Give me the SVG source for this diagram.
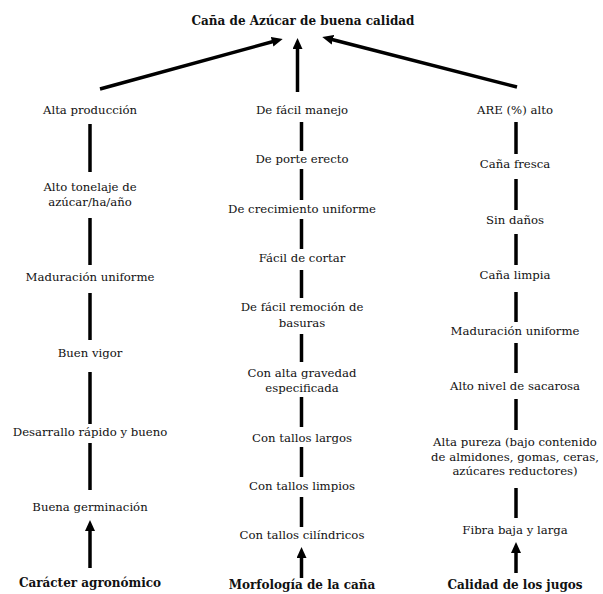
<svg xmlns="http://www.w3.org/2000/svg" width="603" height="594" viewBox="0 0 603 594">
<style>
text{font-family:"DejaVu Serif","Liberation Serif",serif;font-size:11.7px;fill:#111;text-anchor:middle}
.b{font-weight:bold;font-size:12px}
.c line{stroke:#000;stroke-width:3.5}
.a{marker-end:url(#ah)}
</style>
<defs>
<marker id="ah" markerUnits="userSpaceOnUse" markerWidth="11" markerHeight="10" refX="3" refY="5" orient="auto">
<path d="M0,0 L11,5 L0,10 z" fill="#000"/>
</marker>
</defs>
<rect width="603" height="594" fill="#fff"/>
<g id="title"><text class="b" x="303" y="25">Caña de Azúcar de buena calidad</text></g>
<g class="c" id="connectors">
<line class="a" x1="100" y1="89" x2="275" y2="41"/>
<line class="a" x1="297.5" y1="92" x2="297.5" y2="46"/>
<line class="a" x1="517" y1="87" x2="330" y2="39"/>
<line x1="90" y1="124" x2="90" y2="172"/>
<line x1="90" y1="218" x2="90" y2="265"/>
<line x1="90" y1="293" x2="90" y2="340"/>
<line x1="90" y1="372" x2="90" y2="424"/>
<line x1="90" y1="443" x2="90" y2="490"/>
<line class="a" x1="90" y1="568" x2="90" y2="528"/>
<line x1="301.5" y1="122" x2="301.5" y2="151"/>
<line x1="301.5" y1="169" x2="301.5" y2="200"/>
<line x1="301.5" y1="219" x2="301.5" y2="249"/>
<line x1="301.5" y1="270" x2="301.5" y2="298"/>
<line x1="301.5" y1="334" x2="301.5" y2="362"/>
<line x1="301.5" y1="397" x2="301.5" y2="427"/>
<line x1="301.5" y1="447" x2="301.5" y2="477"/>
<line x1="301.5" y1="497" x2="301.5" y2="527"/>
<line class="a" x1="301.5" y1="578" x2="301.5" y2="555"/>
<line x1="516" y1="122" x2="516" y2="154"/>
<line x1="516" y1="179" x2="516" y2="210"/>
<line x1="516" y1="234" x2="516" y2="265"/>
<line x1="516" y1="292" x2="516" y2="322"/>
<line x1="516" y1="343" x2="516" y2="373"/>
<line x1="516" y1="399" x2="516" y2="430"/>
<line x1="516" y1="488" x2="516" y2="518"/>
<line class="a" x1="516" y1="573" x2="516" y2="550"/>
</g>
<g id="col1">
<g id="n-alta-produccion"><text x="90" y="114">Alta producción</text></g>
<g id="n-alto-tonelaje"><text x="90" y="191">Alto tonelaje de</text><text x="90" y="206">azúcar/ha/año</text></g>
<g id="n-maduracion1"><text x="90" y="281">Maduración uniforme</text></g>
<g id="n-buen-vigor"><text x="90" y="357">Buen vigor</text></g>
<g id="n-desarrallo"><text x="90" y="436">Desarrallo rápido y bueno</text></g>
<g id="n-germinacion"><text x="90" y="511">Buena germinación</text></g>
<g id="n-agronomico"><text class="b" x="90" y="587">Carácter agronómico</text></g>
</g>
<g id="col2">
<g id="n-manejo"><text x="302" y="114">De fácil manejo</text></g>
<g id="n-porte"><text x="302" y="163">De porte erecto</text></g>
<g id="n-crecimiento"><text x="302" y="213">De crecimiento uniforme</text></g>
<g id="n-cortar"><text x="302" y="262">Fácil de cortar</text></g>
<g id="n-basuras"><text x="302" y="311">De fácil remoción de</text><text x="302" y="327">basuras</text></g>
<g id="n-gravedad"><text x="302" y="377">Con alta gravedad</text><text x="302" y="392">especificada</text></g>
<g id="n-largos"><text x="302" y="442">Con tallos largos</text></g>
<g id="n-limpios"><text x="302" y="490">Con tallos limpios</text></g>
<g id="n-cilindricos"><text x="302" y="539">Con tallos cilíndricos</text></g>
<g id="n-morfologia"><text class="b" x="302" y="589">Morfología de la caña</text></g>
</g>
<g id="col3">
<g id="n-are"><text x="515" y="114">ARE (%) alto</text></g>
<g id="n-fresca"><text x="515" y="168">Caña fresca</text></g>
<g id="n-danos"><text x="515" y="224">Sin daños</text></g>
<g id="n-limpia"><text x="515" y="279">Caña limpia</text></g>
<g id="n-maduracion2"><text x="515" y="335">Maduración uniforme</text></g>
<g id="n-sacarosa"><text x="515" y="390">Alto nivel de sacarosa</text></g>
<g id="n-pureza"><text x="515" y="446">Alta pureza (bajo contenido</text><text x="515" y="461">de almidones, gomas, ceras,</text><text x="515" y="475">azúcares reductores)</text></g>
<g id="n-fibra"><text x="515" y="534">Fibra baja y larga</text></g>
<g id="n-jugos"><text class="b" x="515" y="589">Calidad de los jugos</text></g>
</g>
</svg>
